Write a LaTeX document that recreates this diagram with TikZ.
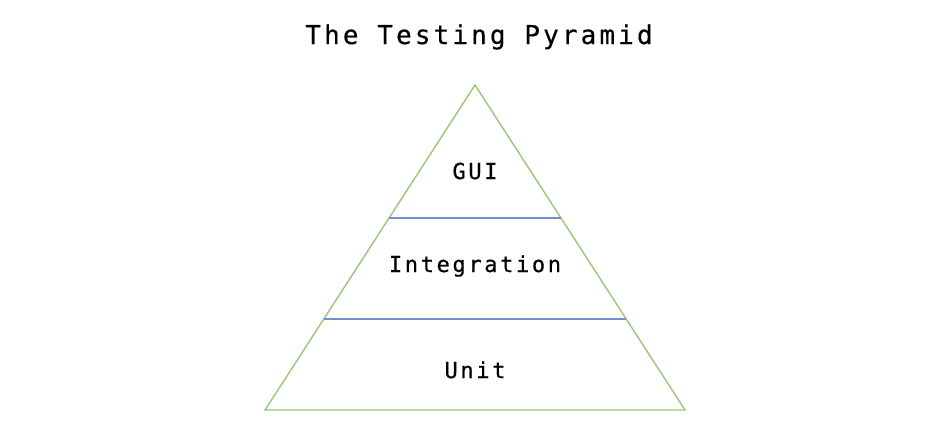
\documentclass[tikz,border=0pt]{standalone}
\usepackage{fontspec}
\newfontfamily\monofont[LetterSpace=12,FakeBold=0.4]{DejaVu Sans Mono}
\definecolor{pyrgreen}{RGB}{150,200,120}
\definecolor{pyrblue}{RGB}{115,145,200}
\begin{document}
\begin{tikzpicture}[x=1pt,y=-1pt,
  edge/.style={draw=pyrgreen,line width=1.4pt,line join=miter},
  divider/.style={draw=pyrblue,line width=1.4pt},
  label/.style={font=\monofont\fontsize{22}{26}\selectfont,anchor=base,inner sep=0pt},
  heading/.style={font=\monofont\fontsize{26}{31}\selectfont,anchor=base,inner sep=0pt}]
\useasboundingbox (0,0) rectangle (950,442);
\coordinate (apex) at (475,85);
\coordinate (bl) at (265,410);
\coordinate (br) at (685,410);
\path (apex) -- (bl) coordinate[pos=0.4092] (d1l);
\path (apex) -- (br) coordinate[pos=0.4092] (d1r);
\path (apex) -- (bl) coordinate[pos=0.72] (d2l);
\path (apex) -- (br) coordinate[pos=0.72] (d2r);
\draw[edge] (apex) -- (bl) -- (br) -- cycle;
\draw[divider] (d1l) -- (d1r);
\draw[divider] (d2l) -- (d2r);
\node[heading] (title) at (479,44) {The Testing Pyramid};
\node[label] (gui) at (475,179) {GUI};
\node[label] (integ) at (475,272) {Integration};
\node[label] (unit) at (475,378) {Unit};
\end{tikzpicture}
\end{document}
